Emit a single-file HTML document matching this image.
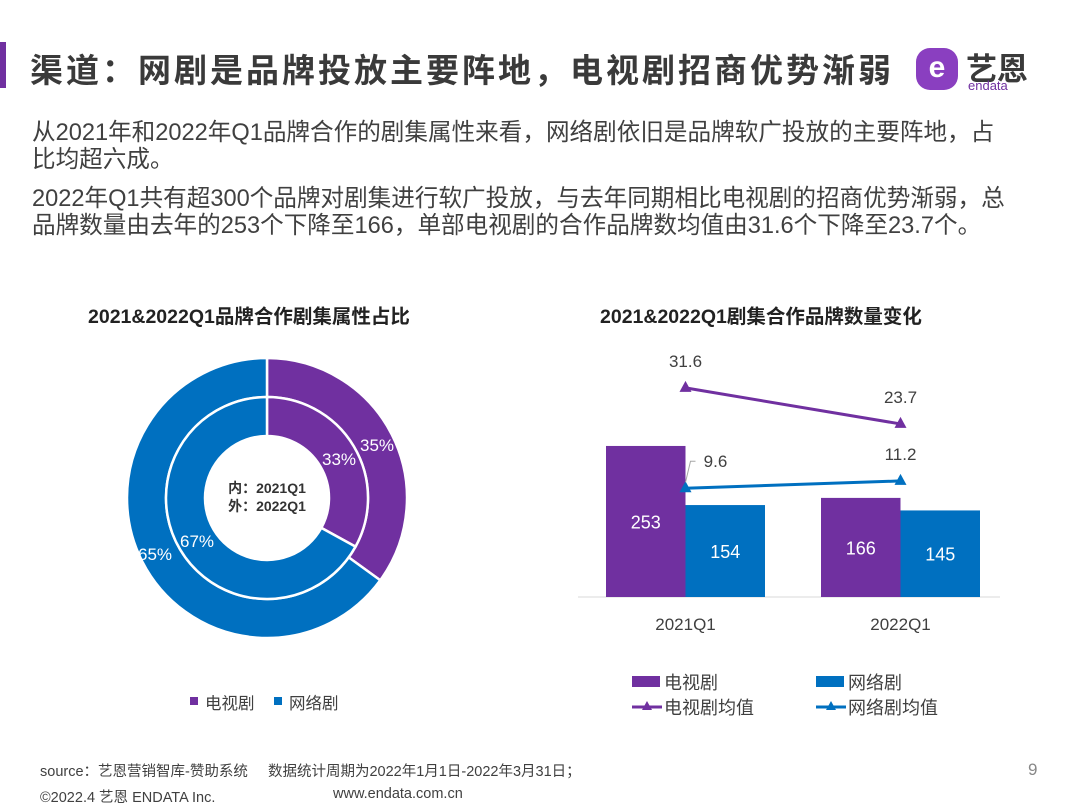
<!DOCTYPE html>
<html><head><meta charset="utf-8"><style>
body{margin:0;width:1080px;height:810px;background:#fff;font-family:"Liberation Sans","Noto Sans CJK SC",sans-serif;color:#404040;position:relative;overflow:hidden}
.a{position:absolute;white-space:nowrap}
</style></head><body>
<div class="a" style="left:0;top:42px;width:6px;height:46px;background:#7030a0"></div>
<div class="a" style="left:30px;top:44px;font-size:33px;letter-spacing:3px;font-weight:bold;color:#3a3a3a">渠道：网剧是品牌投放主要阵地，电视剧招商优势渐弱</div>
<div class="a" style="left:914px;top:44px;width:130px;height:50px">
<div style="position:absolute;left:2px;top:4px;width:42px;height:42px;border-radius:14px;background:#8a3fc0;color:#fff;font-size:30px;font-weight:bold;line-height:40px;text-align:center">e</div>
<div style="position:absolute;left:52px;top:0;font-size:31px;font-weight:bold;color:#3a3a3a">艺恩</div>
<div style="position:absolute;left:54px;top:34px;font-size:13px;color:#7030a0">endata</div></div>
<div class="a" style="left:32px;top:120px;font-size:23.6px;line-height:27px;color:#404040">从2021年和2022年Q1品牌合作的剧集属性来看，网络剧依旧是品牌软广投放的主要阵地，占<br>比均超六成。</div>
<div class="a" style="left:32px;top:186px;font-size:23.6px;line-height:27px;color:#404040">2022年Q1共有超300个品牌对剧集进行软广投放，与去年同期相比电视剧的招商优势渐弱，总<br>品牌数量由去年的253个下降至166，单部电视剧的合作品牌数均值由31.6个下降至23.7个。</div>
<div class="a" style="left:88px;top:300px;font-size:19.5px;font-weight:bold;color:#222">2021&amp;2022Q1品牌合作剧集属性占比</div>
<div class="a" style="left:600px;top:300px;font-size:19.5px;font-weight:bold;color:#222">2021&amp;2022Q1剧集合作品牌数量变化</div>
<svg class="a" style="left:0;top:0" width="1080" height="810" id="s"></svg>
<div class="a" style="left:40px;top:760px;font-size:14.5px;color:#404040">source：艺恩营销智库-赞助系统&nbsp;&nbsp;&nbsp;&nbsp;&nbsp;数据统计周期为2022年1月1日-2022年3月31日；</div>
<div class="a" style="left:1028px;top:760px;font-size:17px;color:#888">9</div>
<div class="a" style="left:40px;top:786px;font-size:14.5px;color:#404040">©2022.4 艺恩 ENDATA Inc.</div>
<div class="a" style="left:333px;top:786px;font-size:14.5px;color:#404040">www.endata.com.cn</div>
<script>
const donutLabels=['电视剧','网络剧'];
const innerValues=[33,67];
const outerValues=[35,65];
const categories=['2021Q1','2022Q1'];
const tvCounts=[253,166];
const webCounts=[154,145];
const tvAvg=[31.6,23.7];
const webAvg=[9.6,11.2];
const P='#7030a0',B='#0070c0';
const s=document.getElementById('s');const NS='http://www.w3.org/2000/svg';
function mk(t,a,txt){const e=document.createElementNS(NS,t);for(const k in a)e.setAttribute(k,a[k]);if(txt!=null)e.textContent=txt;s.appendChild(e);return e;}
const cx=267,cy=498;
function arc(r0,r1,a0,a1){const p=(r,a)=>[cx+r*Math.sin(a),cy-r*Math.cos(a)];const l=a1-a0>Math.PI?1:0;const[x1,y1]=p(r1,a0),[x2,y2]=p(r1,a1),[x3,y3]=p(r0,a1),[x4,y4]=p(r0,a0);return`M${x1},${y1}A${r1},${r1} 0 ${l} 1 ${x2},${y2}L${x3},${y3}A${r0},${r0} 0 ${l} 0 ${x4},${y4}Z`;}
function ring(vals,r0,r1,nm,lpos){const tot=vals.reduce((a,b)=>a+b,0);let a=0;vals.forEach((v,i)=>{const a1=a+v/tot*2*Math.PI;const e=mk('path',{d:arc(r0,r1,a,a1),fill:i?B:P,stroke:'#fff','stroke-width':2.5});


const t=mk('text',{x:lpos[i][0],y:lpos[i][1],'font-size':17,fill:'#fff','text-anchor':'middle'},v+'%');


a=a1;});}
ring(outerValues,101,140,'outer',[[377,451],[155,560]]);ring(innerValues,62,101,'inner',[[339,465],[197,547]]);
let t1=mk('text',{x:cx,y:493,'font-size':14,'font-weight':'bold','text-anchor':'middle',fill:'#333'},'内：2021Q1');

let t2=mk('text',{x:cx,y:511,'font-size':14,'font-weight':'bold','text-anchor':'middle',fill:'#333'},'外：2022Q1');

donutLabels.forEach((l,i)=>{const x=190+i*84;const r=mk('rect',{x:x,y:697,width:8,height:8,fill:i?B:P});

const t=mk('text',{x:x+15,y:709,'font-size':16.5,fill:'#404040'},l);
});
const base=597,ys=n=>base-n*0.597,ya=v=>532-v*4.56;const gx=[606,821],bw=79.5;
const ax=mk('line',{x1:578,y1:base,x2:1000,y2:base,stroke:'#d9d9d9','stroke-width':1});

categories.forEach((c,i)=>{
 const r1=mk('rect',{x:gx[i],y:ys(tvCounts[i]),width:bw,height:base-ys(tvCounts[i]),fill:P});
 
 const r2=mk('rect',{x:gx[i]+bw,y:ys(webCounts[i]),width:bw,height:base-ys(webCounts[i]),fill:B});
 
 const l1=mk('text',{x:gx[i]+bw/2,y:(ys(tvCounts[i])+base)/2+7,'font-size':18,fill:'#fff','text-anchor':'middle'},tvCounts[i]);
 
 const l2=mk('text',{x:gx[i]+bw*1.5,y:(ys(webCounts[i])+base)/2+7,'font-size':18,fill:'#fff','text-anchor':'middle'},webCounts[i]);
 
 const xl=mk('text',{x:gx[i]+bw,y:630,'font-size':17,fill:'#404040','text-anchor':'middle'},c);
 
});
function line(vals,col,nm,dy){const px=gx.map(g=>g+bw);const pl=mk('polyline',{points:px.map((x,i)=>x+','+ya(vals[i])).join(' '),fill:'none',stroke:col,'stroke-width':3});

vals.forEach((v,i)=>{const x=px[i],y=ya(v);const m=mk('path',{d:`M${x},${y-7}L${x+6},${y+4}L${x-6},${y+4}Z`,fill:col});

const t=mk('text',{x:x+(nm==='web-avg'&&i===0?30:0),y:y-dy,'font-size':17,fill:'#404040','text-anchor':'middle'},v);
});}
line(tvAvg,P,'tv-avg',21);line(webAvg,B,'web-avg',21);
const ld=mk('path',{d:`M${gx[0]+bw},${ya(webAvg[0])-6}L${gx[0]+bw+5},${ya(webAvg[0])-27}L${gx[0]+bw+10},${ya(webAvg[0])-27}`,fill:'none',stroke:'#a6a6a6','stroke-width':1});

const lg=[['电视剧',P,0],['网络剧',B,0],['电视剧均值',P,1],['网络剧均值',B,1]];
lg.forEach((g,i)=>{const x=i%2?816:632,y=i<2?682:707;let e;
 if(!g[2])e=mk('rect',{x:x,y:y-6,width:28,height:11,fill:g[1]});
 else{e=mk('line',{x1:x,y1:y,x2:x+30,y2:y,stroke:g[1],'stroke-width':3});mk('path',{d:`M${x+15},${y-6}L${x+20},${y+3}L${x+10},${y+3}Z`,fill:g[1]});}
 
 const t=mk('text',{x:x+32,y:y+7,'font-size':18,fill:'#404040'},g[0]);
 });
</script>
</body></html>
